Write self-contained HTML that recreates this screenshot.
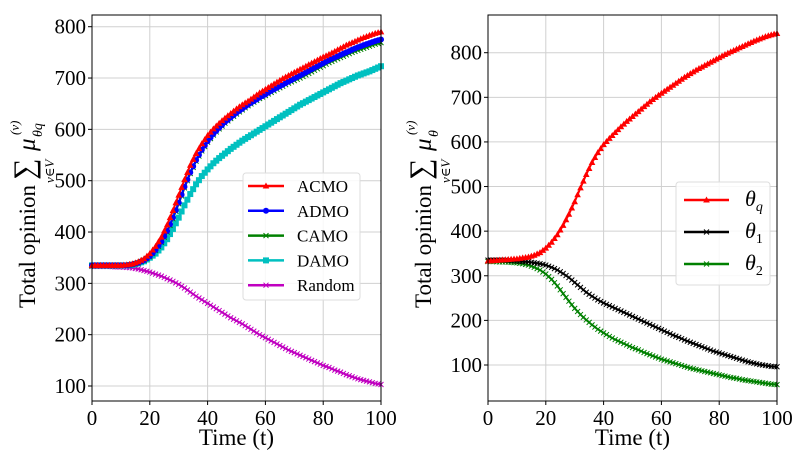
<!DOCTYPE html>
<html><head><meta charset="utf-8"><style>
html,body{margin:0;padding:0;background:#fff;}
svg{display:block;font-family:"Liberation Serif","DejaVu Serif",serif;}
</style></head><body>
<svg id="chart" width="805" height="465" viewBox="0 0 805 465" xmlns="http://www.w3.org/2000/svg"></svg>
<script>
const times = [];
for (let t = 0; t <= 100; t += 2) times.push(t);
const acmo = [335,335,335,335,335,335,336,338,342,348,358,372,390,414,442,472,502,530,553,572,588,601,612,622,631,640,648,655,663,671,678,685,692,699,705,711,717,723,729,735,741,746,752,758,764,769,774,779,783,787,790];
const admo = [335,335,335,335,335,335,335,337,340,345,353,365,381,402,428,457,488,516,540,560,577,591,603,614,623,632,640,648,655,662,668,675,681,687,693,699,705,711,717,723,729,735,740,745,750,755,760,764,768,772,775];
const camo = [334,334,334,334,334,334,335,337,340,345,352,364,380,400,426,455,486,514,538,558,575,589,601,612,621,630,638,646,653,660,666,672,678,684,690,695,700,706,712,718,724,730,735,740,745,750,754,758,762,766,769];
const damo = [335,335,335,335,335,335,335,336,339,343,350,358,370,386,406,428,452,474,493,509,522,534,544,553,562,570,578,585,592,599,606,613,620,627,634,641,648,654,660,666,672,678,684,690,695,700,705,709,713,718,723];
const randomS = [333,333,333,333,332,332,331,330,328,325,322,318,314,309,304,298,291,283,275,268,261,254,247,240,233,227,221,214,207,200,194,188,182,176,170,165,160,155,150,145,140,136,131,127,122,118,114,111,108,105,103];
const thetaQ = [333,334,335,336,337,338,340,342,346,352,362,375,392,413,438,466,497,527,554,576,594,608,621,634,646,657,668,679,690,700,709,718,727,736,745,753,761,768,775,782,789,796,802,808,814,820,826,831,836,840,843];
const theta1 = [335,335,335,335,334,333,332,331,329,327,324,319,313,305,296,285,274,263,254,246,239,233,227,221,215,209,203,197,191,185,179,173,167,162,156,151,146,141,136,131,127,123,119,115,111,107,104,101,99,97,96];
const theta2 = [332,332,331,331,330,329,327,324,319,313,304,292,277,260,243,227,213,201,190,180,172,164,157,151,145,139,134,128,123,118,113,109,105,101,97,93,90,87,84,81,78,75,72,70,67,65,63,61,59,57,56];
const xTicks = [0,20,40,60,80,100];
const leftYTicks = [100,200,300,400,500,600,700,800];
const rightYTicks = [100,200,300,400,500,600,700,800];

const NS = "http://www.w3.org/2000/svg";
const svg = document.getElementById('chart');
function mk(tag, attrs, parent){const e=document.createElementNS(NS,tag);for(const k in attrs)e.setAttribute(k,attrs[k]);(parent||svg).appendChild(e);return e;}

function marker(g, type, x, y, color){
  let m;
  if(type==='tri'){m=mk('polygon',{points:`${x},${y-3.5} ${x-3.3},${y+2.5} ${x+3.3},${y+2.5}`,fill:color},g);}
  else if(type==='circ'){m=mk('circle',{cx:x,cy:y,r:3,fill:color},g);}
  else if(type==='sq'){m=mk('rect',{x:x-3,y:y-3,width:6,height:6,fill:color},g);}
  else {m=mk('path',{d:`M${x-2.5},${y-2.5}L${x+2.5},${y+2.5}M${x-2.5},${y+2.5}L${x+2.5},${y-2.5}`,stroke:color,'stroke-width':1},g);}
  
  
}

function panel(opts){
  const {x0,x1,y0,y1,vmin,vmax,yticks,series,name} = opts;
  const X = t => x0 + (t-0)/(100-0)*(x1-x0);
  const Y = v => y1 - (v-vmin)/(vmax-vmin)*(y1-y0);
  const g = mk('g',{});
  
  
  xTicks.forEach(t=>{const l=mk('line',{x1:X(t),x2:X(t),y1:y0,y2:y1,stroke:'#d0d0d0','stroke-width':1},g);
    });
  yticks.forEach(v=>{const l=mk('line',{x1:x0,x2:x1,y1:Y(v),y2:Y(v),stroke:'#d0d0d0','stroke-width':1},g);
    });
  series.forEach(s=>{
    const sg=mk('g',{},g);
    
    
    const d=s.vals.map((v,i)=>(i?'L':'M')+X(times[i]).toFixed(2)+','+Y(v).toFixed(2)).join('');
    const p=mk('path',{d:d,fill:'none',stroke:s.color,'stroke-width':2},sg);
    
    
    s.vals.forEach((v,i)=>marker(sg,s.m,X(times[i]),Y(v),s.color));
    for(let i=0;i<s.vals.length-1;i++){marker(sg,s.m,X(times[i]+1),Y((s.vals[i]+s.vals[i+1])/2),s.color);}
  });
  const fr=mk('rect',{x:x0,y:y0,width:x1-x0,height:y1-y0,fill:'none',stroke:'#000','stroke-width':1},g);
  
  xTicks.forEach(t=>{
    mk('line',{x1:X(t),x2:X(t),y1:y1,y2:y1+4,stroke:'#000'},g);
    const tx=mk('text',{x:X(t),y:y1+24,'text-anchor':'middle','font-size':21},g);
    tx.textContent=t;
    
  });
  yticks.forEach(v=>{
    mk('line',{x1:x0-4,x2:x0,y1:Y(v),y2:Y(v),stroke:'#000'},g);
    const tx=mk('text',{x:x0-6,y:Y(v)+7,'text-anchor':'end','font-size':21},g);
    tx.textContent=v;
    
  });
  const xl=mk('text',{x:(x0+x1)/2,y:445,'text-anchor':'middle','font-size':23},g);
  xl.textContent='Time (t)';
  
  return {X,Y,g};
}

panel({x0:92,x1:381,y0:15,y1:401,vmin:70.8,vmax:822.8,yticks:leftYTicks,name:'left-chart',
  series:[
    {key:'random',vals:randomS,color:'#c000c0',m:'x'},
    {key:'damo',vals:damo,color:'#00c0c0',m:'sq'},
    {key:'camo',vals:camo,color:'#008000',m:'x'},
    {key:'admo',vals:admo,color:'#0000ff',m:'circ'},
    {key:'acmo',vals:acmo,color:'#ff0000',m:'tri'}]});
panel({x0:488,x1:777,y0:15,y1:401,vmin:19.3,vmax:884.5,yticks:rightYTicks,name:'right-chart',
  series:[
    {key:'theta-2',vals:theta2,color:'#008000',m:'x'},
    {key:'theta-1',vals:theta1,color:'#000000',m:'x'},
    {key:'theta-q',vals:thetaQ,color:'#ff0000',m:'tri'}]});

function ytitle(tx, sub, name){
  const g=mk('g',{transform:`translate(${tx},308) rotate(-90)`});
  
  const t=mk('text',{x:0,y:0,'font-size':23},g);t.textContent='Total opinion';
  mk('text',{x:128,y:-1,'font-size':30},g).textContent='∑';
  mk('text',{x:125,y:19,'font-size':13,'font-style':'italic'},g).textContent='v∈V';
  mk('text',{x:157,y:0,'font-size':25,'font-style':'italic'},g).textContent='μ';
  mk('text',{x:171,y:7,'font-size':14,'font-style':'italic'},g).textContent=sub;
  mk('text',{x:173,y:-16,'font-size':13,'font-style':'italic'},g).textContent='(v)';
}
ytitle(35,'θq','left-y-axis-title');
ytitle(431,'θ','right-y-axis-title');

function legend(x,y,w,h,items,rowH,firstY,fs,name){
  const g=mk('g',{});
  
  mk('rect',{x:x,y:y,width:w,height:h,rx:3,fill:'#fff','fill-opacity':0.85,stroke:'#ddd'},g);
  items.forEach((it,i)=>{
    const e=mk('g',{},g);
    
    const yy=firstY+i*rowH;
    mk('line',{x1:x+it.lx1,x2:x+it.lx2,y1:yy,y2:yy,stroke:it.color,'stroke-width':2.5},e);
    marker(e,it.m,x+(it.lx1+it.lx2)/2,yy,it.color);
    const t=mk('text',{x:x+it.tx,y:yy+6,'font-size':fs,'font-style':it.it?'italic':'normal'},e);
    t.textContent=it.label;
    if(it.sub){const s=mk('tspan',{'font-size':14,dy:5,'font-style':it.subIt?'italic':'normal'},t);s.textContent=it.sub;}
  });
}
legend(243,173,117,127,[
  {label:'ACMO',color:'#ff0000',m:'tri',lx1:5,lx2:41,tx:54},
  {label:'ADMO',color:'#0000ff',m:'circ',lx1:5,lx2:41,tx:54},
  {label:'CAMO',color:'#008000',m:'x',lx1:5,lx2:41,tx:54},
  {label:'DAMO',color:'#00c0c0',m:'sq',lx1:5,lx2:41,tx:54},
  {label:'Random',color:'#c000c0',m:'x',lx1:5,lx2:41,tx:54}],24.8,186,17,'left-legend');
legend(676,182,94,103,[
  {label:'θ',sub:'q',subIt:true,it:true,color:'#ff0000',m:'tri',lx1:8,lx2:53,tx:69},
  {label:'θ',sub:'1',it:true,color:'#000000',m:'x',lx1:8,lx2:53,tx:69},
  {label:'θ',sub:'2',it:true,color:'#008000',m:'x',lx1:8,lx2:53,tx:69}],32,200,22,'right-legend');
</script>
</body></html>
